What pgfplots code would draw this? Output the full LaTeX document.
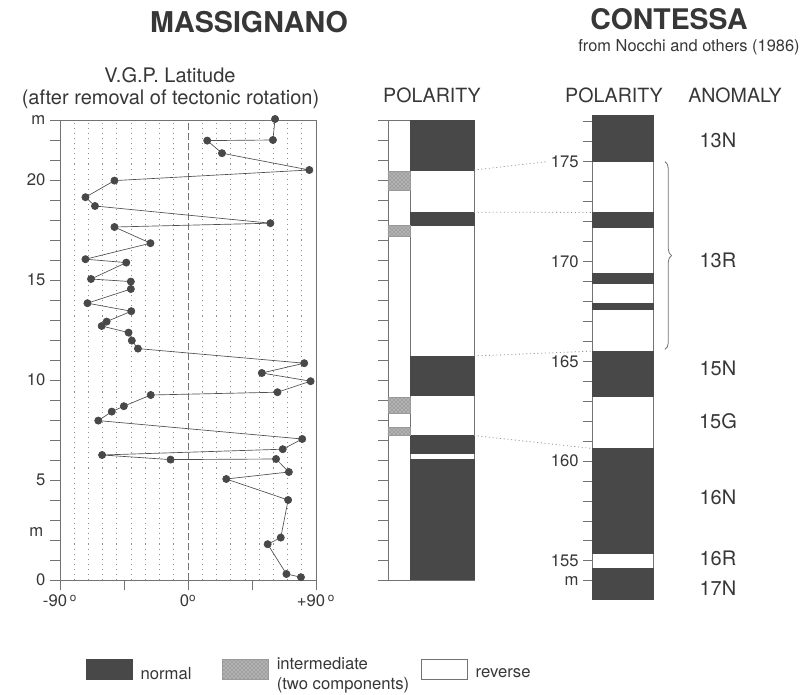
\documentclass[border=0pt]{standalone}
\usepackage{fontspec}
\setmainfont{TeX Gyre Heros}
\usepackage{pgfplots}
\pgfplotsset{compat=1.18}
\usetikzlibrary{patterns,decorations.pathreplacing}
\definecolor{dk}{RGB}{72,72,72}
\definecolor{tx}{RGB}{55,55,55}
\definecolor{ax}{RGB}{115,115,115}
\definecolor{cor}{RGB}{150,150,150}
\tikzset{inter/.style={fill=black!30, draw=black!40, postaction={pattern=crosshatch dots, pattern color=black!60}}}
\begin{document}
\begin{tikzpicture}
\useasboundingbox (0,0) rectangle (603pt,520.5pt);
\pgfplotsset{
  every axis/.append style={
    scale only axis, anchor=south west, clip=false,
    tick label style={font=\fontsize{12.5}{14}\selectfont, text=tx},
    /pgf/number format/assume math mode=true,
    tick align=outside,
    every tick/.style={ax, line width=0.6pt},
    axis line style={ax, line width=0.6pt},
  }
}
% ---------------- VGP latitude ----------------
\begin{axis}[
  at={(45pt,85.5pt)}, width=192pt, height=345pt,
  xmin=-90, xmax=90, ymin=0, ymax=23,
  tick pos=left,
  major tick length=7.5pt, minor tick length=7.5pt,
  xtick={-90,-45,0,45,90},
  xticklabels={-90\,\textsuperscript{o}, , 0\textsuperscript{o}, , +90\,\textsuperscript{o}},
  ytick={0,5,10,15,20}, minor ytick={0,...,23},
  extra y ticks={23}, extra y tick labels={m},
  extra x ticks={-80,-70,-60,-50,-40,-30,-20,-10,10,20,30,40,50,60,70,80},
  extra x tick labels={},
  extra x tick style={xmajorgrids=true, major tick length=0pt,
     major grid style={ax!80, dash pattern=on 0.8pt off 3pt, line width=0.6pt}},
]
\draw[ax, line width=0.6pt, dash pattern=on 5pt off 2.5pt] (axis cs:0,0) -- (axis cs:0,23);
\addplot[color=ax!70!black, line width=0.5pt, mark=*, mark size=2.7pt,
  mark options={fill=dk, draw=dk}] coordinates {
(61.2,23.05)(59.7,22.0)(13.5,21.97)(23.9,21.34)(85.3,20.5)(-51.7,19.97)(-72.1,19.14)
(-65.4,18.7)(57.9,17.84)(-51.7,17.65)(-26.4,16.84)(-72.1,16.04)(-43.4,15.87)(-68.2,15.05)
(-40.2,14.92)(-40.2,14.55)(-70.7,13.84)(-39.9,13.44)(-57.2,12.92)(-60.7,12.7)(-41.8,12.37)
(-39.5,11.97)(-35.2,11.57)(81.7,10.84)(51.9,10.35)(86.2,9.94)(62.9,9.39)(-26.2,9.25)
(-45.1,8.69)(-53.6,8.42)(-63.1,7.97)(80.3,7.05)(66.6,6.54)(-60.4,6.25)(-12.3,6.02)
(61.9,6.05)(70.9,5.4)(26.9,5.05)(70.4,4.0)(65.2,2.12)(56.0,1.79)(69.2,0.3)(79.4,0.14)};
\node[anchor=east, font=\fontsize{12.5}{14}\selectfont, text=tx] at (axis cs:-90,2.4) [xshift=-9pt] {m};
\end{axis}
% ---------------- Massignano polarity ----------------
\begin{axis}[
  at={(291pt,85.5pt)}, width=64.5pt, height=345pt,
  xmin=388, xmax=474, ymin=0, ymax=23,
  axis x line=none, axis y line*=left,
  ytick={0,...,23}, yticklabels={},
  major tick length=7.5pt,
  legend columns=3,
  legend cell align=left,
  legend style={draw=none, fill=none, at={(-3.56,-0.155)}, anchor=north west,
     font=\fontsize{12.5}{15}\selectfont, text=tx, cells={align=left},
     /tikz/every odd column/.style={column sep=4pt},
     /tikz/column 2/.style={column sep=21pt},
     /tikz/column 4/.style={column sep=7pt}},
  legend image code/.code={\draw[#1] (0pt,-4pt) rectangle (34.5pt,11pt);},
]
\addplot[fill=white, draw=ax, forget plot] coordinates {(388,0)(410,0)(410,23)(388,23)} -- cycle;
\addplot[fill=white, draw=ax, forget plot] coordinates {(410,0)(474,0)(474,23)(410,23)} -- cycle;
% normal polarity
\addplot[fill=dk, draw=dk, forget plot] coordinates {(410,20.5)(474,20.5)(474,23)(410,23)} -- cycle;
\addplot[fill=dk, draw=dk, forget plot] coordinates {(410,17.72)(474,17.72)(474,18.39)(410,18.39)} -- cycle;
\addplot[fill=dk, draw=dk, forget plot] coordinates {(410,9.22)(474,9.22)(474,11.2)(410,11.2)} -- cycle;
\addplot[fill=dk, draw=dk, forget plot] coordinates {(410,6.34)(474,6.34)(474,7.22)(410,7.22)} -- cycle;
\addplot[fill=dk, draw=dk, forget plot] coordinates {(410,0.05)(474,0.05)(474,6.05)(410,6.05)} -- cycle;
% intermediate
\addplot[inter, forget plot] coordinates {(388,19.5)(410,19.5)(410,20.45)(388,20.45)} -- cycle;
\addplot[inter, forget plot] coordinates {(388,17.17)(410,17.17)(410,17.72)(388,17.72)} -- cycle;
\addplot[inter, forget plot] coordinates {(388,8.34)(410,8.34)(410,9.14)(388,9.14)} -- cycle;
\addplot[inter, forget plot] coordinates {(388,7.22)(410,7.22)(410,7.64)(388,7.64)} -- cycle;
\addlegendimage{fill=dk, draw=dk}
\addlegendentry{normal}
\addlegendimage{inter}
\addlegendentry{intermediate\\(two components)}
\addlegendimage{fill=white, draw=ax}
\addlegendentry{reverse}
\coordinate (m1) at (axis cs:474,20.5);
\coordinate (m2) at (axis cs:474,18.39);
\coordinate (m3) at (axis cs:474,11.2);
\coordinate (m4) at (axis cs:474,7.22);
\end{axis}
% ---------------- Contessa polarity ----------------
\begin{axis}[
  at={(444.5pt,71pt)}, width=45.45pt, height=363.2pt,
  xmin=592.7, xmax=653.3, ymin=153.07, ymax=177.34,
  axis x line=none, axis y line*=left,
  ytick={155,160,...,175}, minor ytick={153,...,177},
  extra y ticks={154}, extra y tick labels={m},
  major tick length=7pt, minor tick length=7pt,
]
\addplot[fill=white, draw=ax, forget plot] coordinates {(592.7,153.07)(653.3,153.07)(653.3,177.34)(592.7,177.34)} -- cycle;
\addplot[fill=dk, draw=dk, forget plot] coordinates {(592.7,175.0)(653.3,175.0)(653.3,177.34)(592.7,177.34)} -- cycle;
\addplot[fill=dk, draw=dk, forget plot] coordinates {(592.7,171.71)(653.3,171.71)(653.3,172.46)(592.7,172.46)} -- cycle;
\addplot[fill=dk, draw=dk, forget plot] coordinates {(592.7,168.93)(653.3,168.93)(653.3,169.41)(592.7,169.41)} -- cycle;
\addplot[fill=dk, draw=dk, forget plot] coordinates {(592.7,167.62)(653.3,167.62)(653.3,167.90)(592.7,167.90)} -- cycle;
\addplot[fill=dk, draw=dk, forget plot] coordinates {(592.7,163.27)(653.3,163.27)(653.3,165.51)(592.7,165.51)} -- cycle;
\addplot[fill=dk, draw=dk, forget plot] coordinates {(592.7,155.37)(653.3,155.37)(653.3,160.63)(592.7,160.63)} -- cycle;
\addplot[fill=dk, draw=dk, forget plot] coordinates {(592.7,153.07)(653.3,153.07)(653.3,154.65)(592.7,154.65)} -- cycle;
\coordinate (c1) at (axis cs:546,175.0);
\coordinate (c2) at (axis cs:592.7,172.46);
\coordinate (c3) at (axis cs:592.7,165.51);
\coordinate (c4) at (axis cs:592.7,160.63);
\draw[ax, line width=0.6pt, decorate, decoration={brace, amplitude=5pt}] (axis cs:665,175.0) -- (axis cs:665,165.6);
\begin{scope}[every node/.style={font=\fontsize{15}{18}\selectfont, text=tx}]
\node at (axis cs:718,176.09) {13N};
\node at (axis cs:718,170.07) {13R};
\node at (axis cs:718,164.66) {15N};
\node at (axis cs:718,162.0) {15G};
\node at (axis cs:718,158.2) {16N};
\node at (axis cs:718,155.14) {16R};
\node at (axis cs:718,153.64) {17N};
\end{scope}
\end{axis}
% correlation lines
\begin{scope}[cor, line width=0.6pt, dash pattern=on 0.8pt off 2pt]
\draw (m1) -- (c1);
\draw (m2) -- (c2);
\draw (m3) -- (c3);
\draw (m4) -- (c4);
\end{scope}
% titles and labels
\begin{scope}[every node/.style={text=tx, anchor=base, inner sep=0pt}]
\node[font=\fontsize{21.5}{24}\selectfont\bfseries] at (186.75pt,495.75pt) {MASSIGNANO};
\node[font=\fontsize{21.3}{24}\selectfont\bfseries] at (501.75pt,498pt) {CONTESSA};
\node[font=\fontsize{12.3}{14}\selectfont] at (516.75pt,481.5pt) {from Nocchi and others (1986)};
\node[font=\fontsize{15}{18}\selectfont] at (127.5pt,458.25pt) {V.G.P. Latitude};
\node[font=\fontsize{15}{18}\selectfont] at (127.9pt,441.75pt) {(after removal of tectonic rotation)};
\node[font=\fontsize{14.7}{18}\selectfont] at (324pt,443.25pt) {POLARITY};
\node[font=\fontsize{14.7}{18}\selectfont] at (460.5pt,443.25pt) {POLARITY};
\node[font=\fontsize{14.7}{18}\selectfont] at (551.25pt,443.25pt) {ANOMALY};
\end{scope}
\end{tikzpicture}
\end{document}
